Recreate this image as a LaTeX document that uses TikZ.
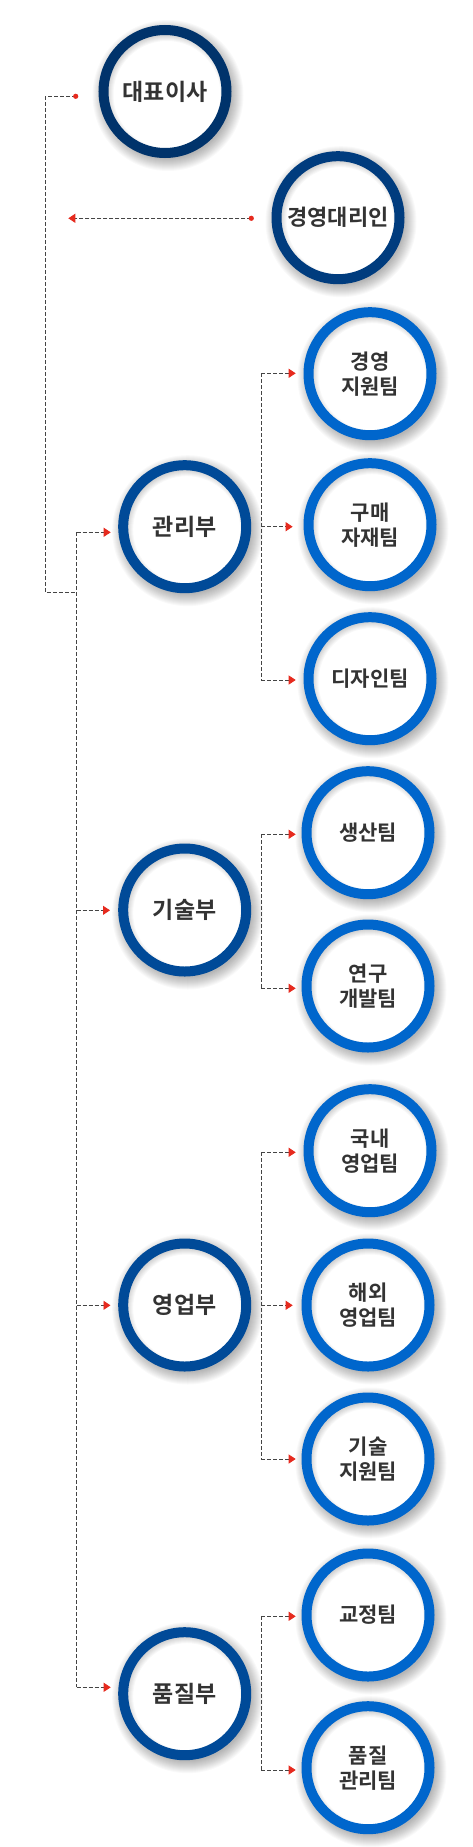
\documentclass[tikz,border=0pt]{standalone}
\usepackage{fontspec}
\setmainfont{Noto Sans CJK KR}[BoldFont={Noto Sans CJK KR Bold}]
\usetikzlibrary{arrows.meta,calc}
\definecolor{ceoblue}{HTML}{00336B}
\definecolor{depblue}{HTML}{003C7E}
\definecolor{deptblue}{HTML}{004A98}
\definecolor{teamblue}{HTML}{0066CC}
\definecolor{txtgray}{HTML}{333333}
\definecolor{linegray}{HTML}{444444}
\definecolor{tipred}{HTML}{E62A1E}
\newcommand\circshadow[3]{%
  \foreach \k in {0,...,12}{%
    \pgfmathsetmacro\rr{#3-3+\k}%
    \fill[black,opacity=0.024] (#1+3,#2+4) circle[radius=\rr pt];}}
\tikzset{
  orgnode/.style={circle, minimum size=123pt, inner sep=0pt, fill=white,
    line width=10pt, text=txtgray, align=center,
    font=\bfseries\fontsize{23}{27}\selectfont,
    path picture={\foreach \k in {1,...,8}{%
      \draw[black,opacity=0.028,line width=2*\k pt]
        ($(path picture bounding box.center)+(2,3)$) circle[radius=61.5pt];}}},
  ceonode/.style={orgnode, draw=ceoblue},
  depnode/.style={orgnode, draw=depblue, font=\bfseries\fontsize{22}{26}\selectfont},
  deptnode/.style={orgnode, draw=deptblue},
  teamnode/.style={orgnode, draw=teamblue, font=\bfseries\fontsize{21}{25}\selectfont},
  dashline/.style={draw=linegray, line width=0.9pt, dash pattern=on 4pt off 2pt},
  redtip/.style={-{Triangle[length=7pt,width=9pt,color=tipred]}},
  reddot/.style={fill=tipred},
}
\begin{document}
\begin{tikzpicture}[x=1pt,y=-1pt]
\fill[white] (0,0) rectangle (473,1847);
\useasboundingbox (0,0) rectangle (473,1847);
% shadows
\circshadow{165}{91.5}{66.5}
\circshadow{338}{217.7}{66.5}
\circshadow{184.7}{526.7}{66.5}
\circshadow{184.7}{910}{66.5}
\circshadow{184.7}{1305}{66.5}
\circshadow{184.7}{1693.7}{66.5}
\circshadow{370}{373.7}{66.5}
\circshadow{370}{524.7}{66.5}
\circshadow{370}{678.7}{66.5}
\circshadow{368}{832.7}{66.5}
\circshadow{368}{986}{66.5}
\circshadow{370}{1150.7}{66.5}
\circshadow{368}{1305}{66.5}
\circshadow{368}{1459}{66.5}
\circshadow{368}{1615}{66.5}
\circshadow{368}{1767.7}{66.5}
% nodes
\node[ceonode] (ceo) at (165,91.5) {대표이사};
\node[depnode] (deputy) at (338,217.7) {경영대리인};
\node[deptnode] (mgmt) at (184.7,526.7) {관리부};
\node[deptnode] (tech) at (184.7,910) {기술부};
\node[deptnode] (sales) at (184.7,1305) {영업부};
\node[deptnode] (qual) at (184.7,1693.7) {품질부};
\node[teamnode] (t1) at (370,373.7) {경영\\지원팀};
\node[teamnode] (t2) at (370,524.7) {구매\\자재팀};
\node[teamnode] (t3) at (370,678.7) {디자인팀};
\node[teamnode] (t4) at (368,832.7) {생산팀};
\node[teamnode] (t5) at (368,986) {연구\\개발팀};
\node[teamnode] (t6) at (370,1150.7) {국내\\영업팀};
\node[teamnode] (t7) at (368,1305) {해외\\영업팀};
\node[teamnode] (t8) at (368,1459) {기술\\지원팀};
\node[teamnode] (t9) at (368,1615) {교정팀};
\node[teamnode] (t10) at (368,1767.7) {품질\\관리팀};
% coordinates
\coordinate (ceodot) at (75.7,96.3);
\coordinate (ceojoin) at (45.3,592.3);
\coordinate (trunkjoin) at (76.7,592.3);
\coordinate (depdot) at (251.3,218.3);
\coordinate (deptip) at (68.3,218.3);
\coordinate (trunktop) at (76.7,532.3);
\coordinate (trunkbot) at (76.7,1687.3);
\coordinate (d1) at (76.7,532.3);  \coordinate (d1t) at (110.7,532.3);
\coordinate (d2) at (76.7,910.3);  \coordinate (d2t) at (110,910.3);
\coordinate (d3) at (76.7,1305.3); \coordinate (d3t) at (110.5,1305.3);
\coordinate (d4) at (76.7,1687.3); \coordinate (d4t) at (110.7,1687.3);
% CEO and deputy
\draw[dashline] (ceodot) -| (ceojoin) -- (trunkjoin);
\fill[reddot] (ceodot) circle[radius=2.6pt];
\draw[dashline,redtip] (depdot) -- (deptip);
\fill[reddot] (depdot) circle[radius=2.6pt];
% trunk
\draw[dashline] (trunktop) -- (trunkbot);
\draw[dashline,redtip] (d1) -- (d1t);
\draw[dashline,redtip] (d2) -- (d2t);
\draw[dashline,redtip] (d3) -- (d3t);
\draw[dashline,redtip] (d4) -- (d4t);
% team branches
\coordinate (b1) at (261.3,373.3); \coordinate (b1t) at (295.7,373.3);
\coordinate (b2) at (261.3,526.7); \coordinate (b2t) at (292.7,526.7);
\coordinate (b3) at (261.3,680);   \coordinate (b3t) at (295.7,680);
\coordinate (b4) at (261.3,834.3); \coordinate (b4t) at (295.7,834.3);
\coordinate (b5) at (261.3,988.3); \coordinate (b5t) at (295.7,988.3);
\coordinate (b6) at (261.3,1152.3); \coordinate (b6t) at (295.7,1152.3);
\coordinate (b7) at (261.3,1305.3); \coordinate (b7t) at (292.7,1305.3);
\coordinate (b8) at (261.3,1459);  \coordinate (b8t) at (295.7,1459);
\coordinate (b9) at (261.3,1616.3); \coordinate (b9t) at (295.7,1616.3);
\coordinate (b10) at (261.3,1770); \coordinate (b10t) at (295.7,1770);
\draw[dashline] (b1) -- (b3);
\draw[dashline] (b4) -- (b5);
\draw[dashline] (b6) -- (b8);
\draw[dashline] (b9) -- (b10);
\foreach \i in {1,...,10}{\draw[dashline,redtip] (b\i) -- (b\i t);}
\end{tikzpicture}
\end{document}
